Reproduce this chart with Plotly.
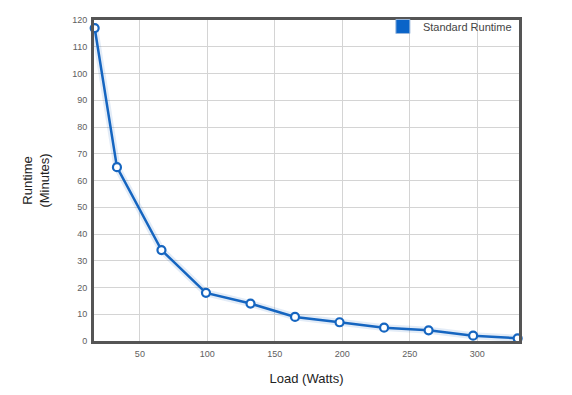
import plotly.graph_objects as go

load_watts = [16.5, 33, 66, 99, 132, 165, 198, 231, 264, 297, 330]
runtime_min = [117, 65, 34, 18, 14, 9, 7, 5, 4, 2, 1]
x_ticks = [50, 100, 150, 200, 250, 300]
y_ticks = [0, 10, 20, 30, 40, 50, 60, 70, 80, 90, 100, 110, 120]
series_name = "Standard Runtime"

fig = go.Figure()
fig.add_trace(go.Scatter(
    x=load_watts, y=runtime_min, mode="lines", showlegend=False, hoverinfo="skip",
    line=dict(color="rgba(21,101,192,0.12)", width=7),
))
fig.add_trace(go.Scatter(
    x=load_watts, y=runtime_min, mode="lines+markers", showlegend=False,
    line=dict(color="#1565c0", width=2.5),
    marker=dict(size=8, color="white", line=dict(color="#1565c0", width=2.2)),
    cliponaxis=False,
))
fig.add_trace(go.Scatter(
    x=[None], y=[None], mode="markers", name=series_name,
    marker=dict(symbol="square", size=14, color="#0a64c8", line=dict(color="#9ab8dc", width=1)),
))

axis_common = dict(
    showgrid=True, gridcolor="#d4d4d4", gridwidth=1,
    showline=True, linecolor="#555555", linewidth=3, mirror=True,
    ticks="", zeroline=False,
    tickfont=dict(family="Arial, Liberation Sans, sans-serif", size=9, color="#606060"),
)

fig.update_layout(
    width=564, height=387,
    margin=dict(l=86, r=53, t=4, b=54),
    paper_bgcolor="white", plot_bgcolor="white",
    font=dict(family="Arial, Liberation Sans, sans-serif"),
    xaxis=dict(range=[16, 331], tickvals=x_ticks, ticklabelstandoff=2,
               title=dict(text="Load (Watts)", font=dict(size=13, color="#222222"), standoff=17),
               **axis_common),
    yaxis=dict(range=[0, 120], tickvals=y_ticks, ticklabelstandoff=2,
               title=dict(text="Runtime<br>(Minutes)", font=dict(size=13, color="#222222"), standoff=20),
               **axis_common),
    legend=dict(x=0.995, y=1.025, xanchor="right", yanchor="top",
                bgcolor="rgba(255,255,255,0)", borderwidth=0,
                font=dict(size=11, color="#444444"), itemwidth=30),
)

fig.write_html("out.html")
